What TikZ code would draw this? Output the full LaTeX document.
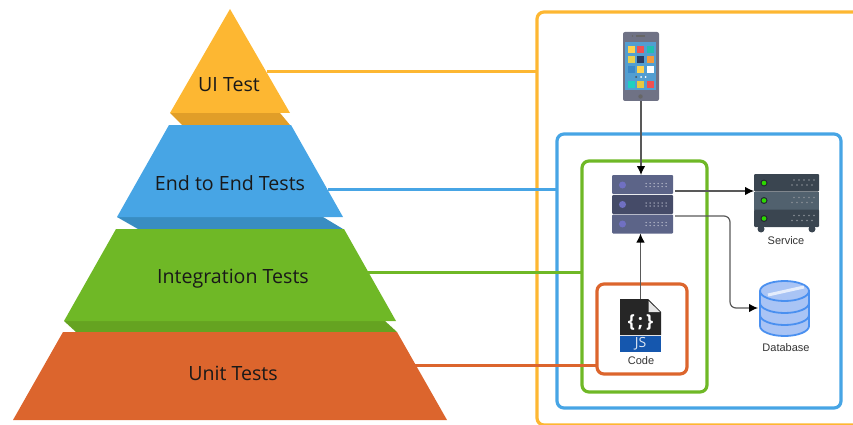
\documentclass[tikz,border=0pt]{standalone}
\usepackage{fontspec}
\setmainfont{Open Sans}
\newfontfamily\smallfont{Liberation Sans}
\usetikzlibrary{arrows.meta}
\definecolor{cy}{HTML}{FDB732}
\definecolor{cyd}{HTML}{E19E28}
\definecolor{cb}{HTML}{47A5E5}
\definecolor{cbd}{HTML}{398DC2}
\definecolor{cg}{HTML}{6FB826}
\definecolor{cgd}{HTML}{65A321}
\definecolor{co}{HTML}{DC652D}
\definecolor{srv}{HTML}{5C6488}
\definecolor{srvd}{HTML}{454B68}
\definecolor{svc}{HTML}{3A4550}
\definecolor{svcm}{HTML}{51616E}
\definecolor{phb}{HTML}{6F7285}
\tikzset{
  lvl/.style={font=\fontsize{19.6}{22}\selectfont,text=black!90,inner sep=0pt},
  frame/.style={line width=3.2pt,rounded corners=7pt,outer sep=0pt},
  lnk/.style={line width=3pt},
  ico/.style={inner sep=0pt,outer sep=0pt,anchor=north west},
  iconlabel/.style={font=\smallfont\fontsize{11}{12}\selectfont,text=black!80,inner sep=0pt},
  arr/.style={draw=black!65,line width=1.2pt,-{Latex[length=9pt,width=8.5pt,black]}},
}
\begin{document}
\begin{tikzpicture}[x=1pt,y=-1pt]
\useasboundingbox (0,0) rectangle (853,425);
\clip (0,0) rectangle (853,425);
% pyramid
\fill[cyd] (170,113)--(182,125)--(290,125)--(280,113)--cycle;
\fill[cy] (230,9)--(290,113)--(170,113)--cycle;
\fill[cbd] (117,217)--(138,229)--(343,229)--(323,217)--cycle;
\fill[cb] (169,125)--(291,125)--(343,217)--(117,217)--cycle;
\fill[cgd] (64,321)--(76,332)--(397,332)--(385,321)--cycle;
\fill[cg] (116,229)--(344,229)--(396,321)--(64,321)--cycle;
\fill[co] (63,332)--(397,332)--(447,420)--(13,420)--cycle;
\node[lvl] (ui) at (229,85) {UI Test};
\node[lvl] (ee) at (230,183) {End to End Tests};
\node[lvl] (it) at (233,279) {Integration Tests};
\node[lvl] (ut) at (233,373) {Unit Tests};
% frames
\node[draw=cy,frame,minimum width=340pt,minimum height=413pt,anchor=north west,inner sep=0pt] (fy) at (537,12) {};
\node[draw=cb,frame,minimum width=284pt,minimum height=274pt,anchor=north west,inner sep=0pt] (fb) at (557,134) {};
\node[draw=cg,frame,minimum width=125pt,minimum height=231pt,anchor=north west,inner sep=0pt] (fg) at (582,161) {};
\node[draw=co,frame,minimum width=90pt,minimum height=90pt,anchor=north west,inner sep=0pt] (fo) at (597,284) {};
% links
\coordinate (ay) at (267,72);
\coordinate (ab) at (328,189);
\coordinate (ag) at (368,272);
\coordinate (ao) at (413,365);
\draw[lnk,cy] (ay) -- (ay -| fy.west);
\draw[lnk,cb] (ab) -- (ab -| fb.west);
\draw[lnk,cg] (ag) -- (ag -| fg.west);
\draw[lnk,co] (ao) -- (ao -| fo.west);
% phone
\node[ico,minimum width=36pt,minimum height=69pt] (phone) at (623,32) {};
\fill[phb,rounded corners=2pt] (623,32) rectangle (659,101);
\fill[cb!80!gray] (625,42) rectangle (656,90);
\fill[black!60] (636,35.5) rectangle (645,37);
\fill[black!60] (632.5,36) circle (0.8pt);
\fill[black!60] (640.5,96.5) circle (2.2pt);
\foreach \x/\y/\c in {628/46/FFD34F,637/46/F05050,647/46/20C0B0,628/56/E8D050,637/56/2A3A60,647/56/F59A3C,628/66/3A88C8,637/66/FFD34F,647/66/FFFFFF,628/81/20D0C0,637/81/E8C840,647/81/F05050}{
  \definecolor{tmp}{HTML}{\c}
  \fill[tmp] (\x,\y) rectangle +(7,7);
}
\fill[black!70] (636,77) circle (1pt);
\fill[white] (641,77) circle (1pt);
\fill[white] (645.5,77) circle (1pt);
% main server
\node[ico,minimum width=61pt,minimum height=58.5pt] (srvn) at (612,175) {};
\fill[srv,rounded corners=1pt] (612,175) rectangle (673,194);
\fill[srvd,rounded corners=1pt] (612,195) rectangle (673,214);
\fill[srv,rounded corners=1pt] (612,214.5) rectangle (673,233.5);
\foreach \y in {185,204.5,224}{
  \fill[blue!40!gray!80] (622.5,\y) circle (3.5pt);
  \foreach \xx in {646,650,654,658,662,666}{
    \fill[white!55!srv] (\xx,\y-1.5) circle (0.75pt);
    \fill[white!55!srv] (\xx,\y+1.5) circle (0.75pt);
  }
}
% service
\node[ico,minimum width=65pt,minimum height=60pt] (svcn) at (754,174) {};
\fill[svc] (761,229) circle (3.5pt);
\fill[svc] (812,229) circle (3.5pt);
\fill[svc,rounded corners=1pt] (754,174) rectangle (819,191.5);
\fill[svcm] (754,191.5) rectangle (819,209.5);
\fill[svc,rounded corners=1pt] (754,209.5) rectangle (819,227);
\foreach \y in {183,200.5,218.5}{
  \fill[svc!60!black] (764,\y) circle (3.5pt);
  \fill[green!80!yellow!85!black] (764,\y) circle (2.3pt);
  \foreach \xx in {794,799,804,809,814}{
    \fill[white!40!svc] (\xx,\y-3) circle (0.9pt);
    \fill[white!40!svc] (\xx-2,\y+2) circle (0.9pt);
  }
}
\node[iconlabel] (svct) at (786,241) {Service};
% database
\node[ico,minimum width=51pt,minimum height=57pt] (dbn) at (759,280) {};
\definecolor{dbf}{HTML}{A9C4F5}
\definecolor{dbl}{HTML}{4A90F0}
\draw[dbl,fill=dbf,line width=1.8pt] (760,291) -- (760,326) arc[start angle=180,end angle=360,x radius=24.5pt,y radius=10pt] -- (809,291);
\draw[dbl,fill=dbf,line width=1.8pt] (784.5,291) ellipse[x radius=24.5pt,y radius=10pt];
\draw[dbl,line width=1.8pt] (760,303) arc[start angle=180,end angle=360,x radius=24.5pt,y radius=10pt];
\draw[dbl,line width=1.8pt] (760,315) arc[start angle=180,end angle=360,x radius=24.5pt,y radius=10pt];
\draw[white!70!dbf,line width=3pt] (768,295) -- (804,287);
\node[iconlabel] (dbt) at (786,348) {Database};
% code icon
\node[ico,minimum width=41pt,minimum height=53pt] (code) at (620,299) {};
\fill[black!85] (620,299) -- (648,299) -- (661,312) -- (661,335) -- (620,335) -- cycle;
\fill[white!90!black] (648.5,301) -- (660,312) -- (648.5,312) -- cycle;
\definecolor{jsb}{HTML}{1557AE}
\fill[jsb] (620,336) rectangle (661,352);
\node[inner sep=0pt,text=white,font=\bfseries\fontsize{18}{18}\selectfont] (brace) at (640.5,322) {\{\,;\,\}};
\node[inner sep=0pt,text=white!85!jsb,font=\fontsize{14}{14}\selectfont] (jst) at (640.5,344) {JS};
\node[iconlabel] (codet) at (641,361) {Code};
% connectors
\draw[arr] (phone.south) -- (phone.south |- srvn.north);
\draw[arr] (code.north) -- (code.north |- srvn.south);
\coordinate (s1) at (675,191);
\coordinate (s2) at (675,216);
\draw[arr] (s1) -- (s1 -| svcn.west);
\coordinate (d1) at (758,308);
\draw[arr,rounded corners=6pt] (s2) -- (730,216) -- (730,308) -- (d1);
\end{tikzpicture}
\end{document}
